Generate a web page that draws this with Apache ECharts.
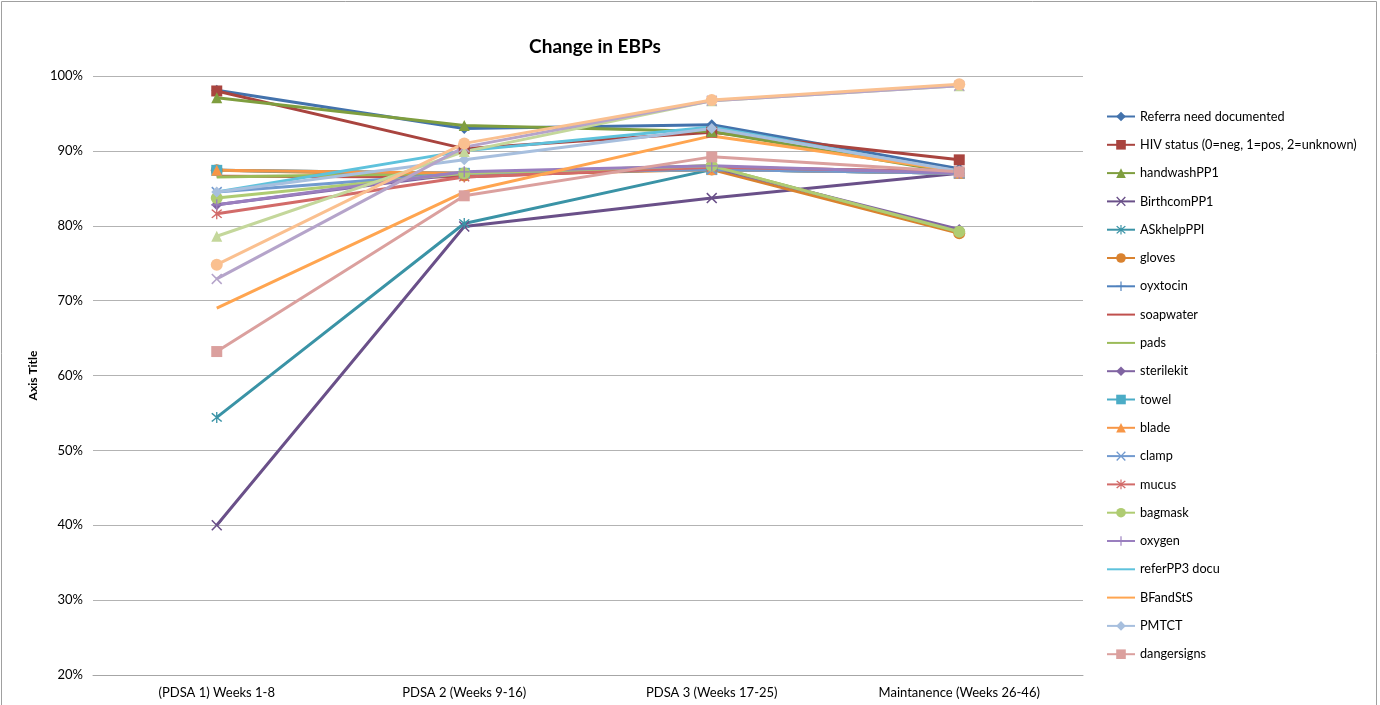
<!DOCTYPE html>
<html>
<head>
<meta charset="utf-8">
<style>
  html, body { margin: 0; padding: 0; background: #fff; }
  #chart { width: 1380px; height: 705px; }
</style>
<script src="https://cdn.jsdelivr.net/npm/echarts@6/dist/echarts.min.js"></script>
</head>
<body>
<div id="chart"></div>
<script>
// categories
const categories = ['(PDSA 1) Weeks 1-8', 'PDSA 2 (Weeks 9-16)', 'PDSA 3 (Weeks 17-25)', 'Maintanence (Weeks 26-46)']

// series values (percent)
const referraNeed = [98.1, 93.0, 93.5, 87.6]
const hivStatus = [98.0, 90.3, 92.5, 88.8]
const handwash = [97.1, 93.4, 92.6, 87.0]
const birthcom = [40.0, 79.9, 83.7, 87.0]
const askhelp = [54.4, 80.3, 87.5, 87.0]
const gloves = [87.4, 86.7, 87.5, 79.0]
const oyxtocin = [87.4, 87.0, 87.5, 87.0]
const soapwater = [86.6, 86.5, 87.8, 87.2]
const pads = [86.5, 87.0, 88.0, 79.2]
const sterilekit = [82.8, 87.0, 87.8, 79.5]
const towel = [87.4, 87.0, 87.5, 87.0]
const blade = [87.4, 87.0, 87.5, 87.0]
const clamp = [84.5, 87.0, 87.5, 87.0]
const mucus = [81.6, 86.5, 87.8, 87.2]
const bagmask = [83.7, 87.0, 88.0, 79.2]
const oxygen = [82.8, 87.2, 88.0, 87.0]
const referPP3 = [84.5, 90.0, 93.2, 87.2]
const bfandsts = [69.0, 84.5, 92.0, 87.3]
const pmtct = [84.5, 88.8, 93.0, 87.3]
const dangersigns = [63.2, 84.0, 89.2, 87.2]
const series21 = [78.6, 89.9, 96.7, 98.7]
const series22 = [72.9, 90.5, 96.7, 98.7]
const series24 = [74.8, 91.0, 96.8, 98.9]

const seriesNames = ['Referra need documented', 'HIV status (0=neg, 1=pos, 2=unknown)', 'handwashPP1', 'BirthcomPP1',
  'ASkhelpPPI', 'gloves', 'oyxtocin', 'soapwater', 'pads', 'sterilekit', 'towel', 'blade', 'clamp', 'mucus',
  'bagmask', 'oxygen', 'referPP3 docu', 'BFandStS', 'PMTCT', 'dangersigns', 'Series21', 'Series22', 'Series24']
const seriesValues = [referraNeed, hivStatus, handwash, birthcom, askhelp, gloves, oyxtocin, soapwater, pads,
  sterilekit, towel, blade, clamp, mucus, bagmask, oxygen, referPP3, bfandsts, pmtct, dangersigns,
  series21, series22, series24]

// styles
const X_PATH = 'path://M1,0L5,4L9,0L10,1L6,5L10,9L9,10L5,6L1,10L0,9L4,5L0,1Z'
const STAR_PATH = 'path://M1,0L5,4L9,0L10,1L6,5L10,9L9,10L5,6L1,10L0,9L4,5L0,1Z M4.4,-1H5.6V11H4.4Z'
const PLUS_PATH = 'path://M4.4,0H5.6V4.4H10V5.6H5.6V10H4.4V5.6H0V4.4H4.4Z'
const markers = ['diamond', 'rect', 'triangle', X_PATH, STAR_PATH, 'circle', PLUS_PATH, 'none', 'none']
const colors = [
  '#4372AC', '#A9443F', '#7F9E3F', '#6A5089', '#3A93A6', '#D9822F',
  '#4F81BD', '#C0504D', '#9BBB59', '#8064A2', '#4BACC6', '#F79646',
  '#729ACF', '#D26B69', '#AFCC72', '#9A7FBF', '#5EC2DC', '#FFA550',
  '#A7BFDE', '#DBA09E', '#C4D79B', '#B5A4CA', '#FAC090'
]
const markerOrder = (i) => {
  // Excel cycles through 9 marker styles; series 24 keeps its circle
  if (i === 22) return 'circle'
  return markers[i % markers.length]
}

const chart = echarts.init(document.getElementById('chart'))
const FONT = 'Lato, "Liberation Sans", sans-serif'

// legend shows only the first 20 series; plain lines get no marker
const legendData = seriesNames.slice(0, 20).map((name, i) => {
  if (markerOrder(i) === 'none') return { name: name, itemStyle: { opacity: 0 } }
  return { name: name }
})

const series = seriesNames.map((name, i) => {
  const sym = markerOrder(i)
  const thin = sym === X_PATH || sym === STAR_PATH || sym === PLUS_PATH
  return {
    name: name,
    type: 'line',
    data: seriesValues[i],
    symbol: sym,
    symbolSize: thin ? 11 : (sym === 'circle' ? 12 : 11),
    showSymbol: sym !== 'none',
    lineStyle: { width: 3, color: colors[i] },
    itemStyle: { color: colors[i] },
    emphasis: { disabled: true },
    animation: false
  }
})

const option = {
  color: colors,
  textStyle: { fontFamily: FONT },
  title: {
    text: 'Change in EBPs',
    left: 590,
    textAlign: 'center',
    top: 32,
    textStyle: { fontFamily: FONT, fontSize: 19, fontWeight: 'bold', color: '#000' }
  },
  legend: {
    data: legendData,
    orient: 'vertical',
    left: 1101,
    top: 105,
    itemWidth: 28,
    itemHeight: 12,
    itemGap: 15.3,
    textStyle: { fontFamily: FONT, fontSize: 12.7, color: '#000' }
  },
  grid: { left: 93, right: 297, top: 76, bottom: 30, containLabel: false },
  xAxis: {
    type: 'category',
    data: categories,
    boundaryGap: true,
    axisLine: { lineStyle: { color: '#a6a6a6' } },
    axisTick: { show: false },
    axisLabel: { color: '#000', fontSize: 13, margin: 11, fontFamily: FONT }
  },
  yAxis: {
    type: 'value',
    min: 20,
    max: 100,
    interval: 10,
    name: 'Axis Title',
    nameLocation: 'middle',
    nameGap: 50,
    nameTextStyle: { fontFamily: FONT, fontSize: 12, fontWeight: 'bold', color: '#000' },
    axisLine: { show: false },
    axisTick: { show: false },
    axisLabel: { formatter: '{value}%', color: '#000', fontSize: 13, margin: 10, fontFamily: FONT },
    splitLine: { lineStyle: { color: '#b3b3b3', width: 1 } }
  },
  graphic: [{
    type: 'rect',
    shape: { x: 1.5, y: 1.5, width: 1375, height: 710 },
    style: { fill: 'none', stroke: '#a0a0a0', lineWidth: 1 },
    silent: true
  }],
  series: series
}

chart.setOption(option)
</script>
</body>
</html>
